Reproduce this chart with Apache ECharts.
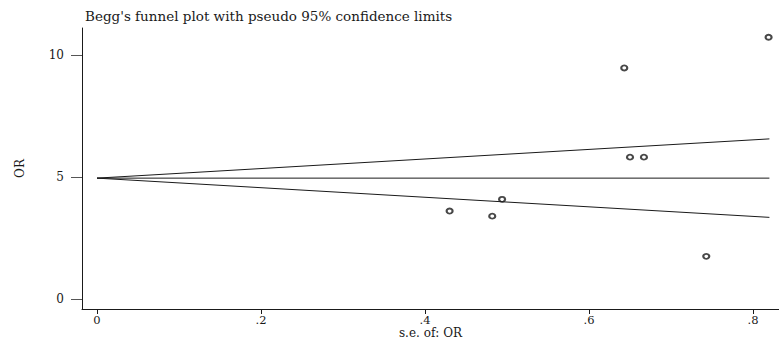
<!DOCTYPE html>
<html>
<head>
<meta charset="utf-8">
<script src="https://cdn.jsdelivr.net/npm/echarts@6/dist/echarts.min.js"></script>
<style>
  html, body { margin: 0; padding: 0; background: #fff; }
  #chart { width: 779px; height: 340px; }
</style>
</head>
<body>
<div id="chart"></div>
<script>
// study points
const seVals = [0.430, 0.482, 0.494, 0.643, 0.650, 0.667, 0.743, 0.819];
const orVals = [3.60, 3.39, 4.08, 9.47, 5.81, 5.81, 1.74, 10.73];

// pseudo 95% limits (end points)
const limitSe = [0, 0.82];
const centerOr = [4.95, 4.95];
const upperOr = [4.95, 6.56];
const lowerOr = [4.95, 3.34];

const xTicks = [0, 0.2, 0.4, 0.6, 0.8];
const yTicks = [0, 5, 10];

// the reference glyphs are stretched sideways, DejaVu Serif is the closest wide serif
const font = '"DejaVu Serif", "Liberation Serif", serif';
const ink = '#1a1a1a';

const pairs = (xs, ys) => xs.map((x, i) => [x, ys[i]]);
const fmtX = (v) => (v === 0 ? '0' : String(v).replace(/^0/, ''));

const chart = echarts.init(document.getElementById('chart'), null, { renderer: 'svg' });

const lineStyle = { color: ink, width: 1 };

chart.setOption({
  animation: false,
  backgroundColor: '#fff',
  textStyle: { fontFamily: font, color: ink },
  title: {
    text: "Begg's funnel plot with pseudo 95% confidence limits",
    left: 80,
    top: 4,
    textStyle: { fontFamily: font, fontSize: 13.5, fontWeight: 'normal', color: ink }
  },
  grid: { left: 82, right: 0, top: 28, bottom: 31, outerBoundsMode: 'none' },
  xAxis: {
    type: 'value',
    min: -0.0183,
    max: 0.8317,
    name: 's.e. of: OR',
    nameLocation: 'middle',
    nameGap: 24,
    nameMoveOverlap: false,
    nameTextStyle: { fontFamily: font, fontSize: 12, lineHeight: 10, color: ink, verticalAlign: 'middle' },
    axisLine: { onZero: false, lineStyle: { color: ink, width: 1 } },
    axisTick: { show: true, length: 5, customValues: xTicks, lineStyle: { color: ink } },
    axisLabel: {
      customValues: xTicks,
      margin: 7,
      fontFamily: font,
      fontSize: 11.5,
      lineHeight: 8,
      color: ink,
      formatter: fmtX
    },
    splitLine: { show: false }
  },
  yAxis: {
    type: 'value',
    min: -0.42,
    max: 11.11,
    name: 'OR',
    nameLocation: 'middle',
    nameRotate: 90,
    nameGap: 56,
    nameMoveOverlap: false,
    nameTextStyle: { fontFamily: font, fontSize: 12, color: ink },
    axisLine: { show: true, onZero: false, lineStyle: { color: ink, width: 1 } },
    axisTick: { show: true, length: 11, customValues: yTicks, lineStyle: { color: '#555' } },
    axisLabel: {
      customValues: yTicks,
      margin: 18,
      fontFamily: font,
      fontSize: 12,
      color: ink
    },
    splitLine: { show: false }
  },
  series: [
    {
      type: 'line',
      data: pairs(limitSe, centerOr),
      symbol: 'none',
      lineStyle: lineStyle,
      silent: true
    },
    {
      type: 'line',
      data: pairs(limitSe, upperOr),
      symbol: 'none',
      lineStyle: lineStyle,
      silent: true
    },
    {
      type: 'line',
      data: pairs(limitSe, lowerOr),
      symbol: 'none',
      lineStyle: lineStyle,
      silent: true
    },
    {
      type: 'scatter',
      data: pairs(seVals, orVals),
      symbol: 'emptyCircle',
      symbolSize: [6, 5],
      itemStyle: { color: ink, borderColor: ink, borderWidth: 0.9 }
    }
  ]
});
</script>
</body>
</html>
